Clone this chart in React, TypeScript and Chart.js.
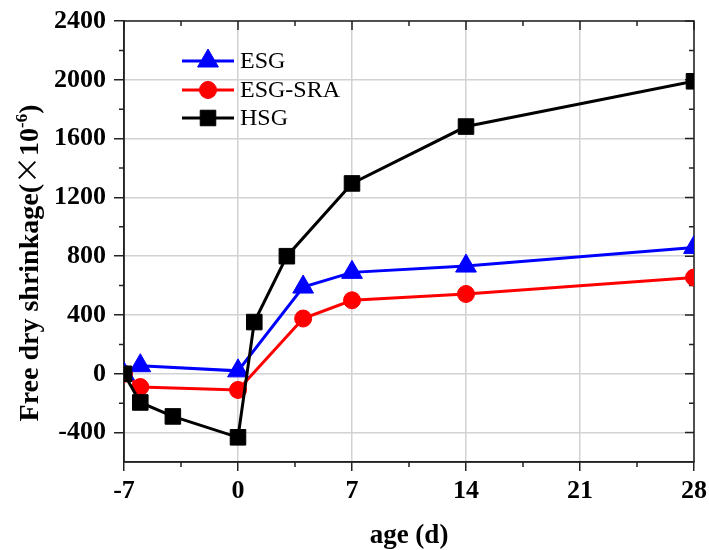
import React, { useEffect, useRef } from "react";
import { Chart, registerables } from "chart.js";
import { drawPoint } from "chart.js/helpers";

Chart.register(...registerables);

// Axis ticks
const xTicks = [-7, 0, 7, 14, 21, 28];
const xMinorTicks = [-3.5, 3.5, 10.5, 17.5, 24.5];
const yTicks = [-400, 0, 400, 800, 1200, 1600, 2000, 2400];
const yMinorTicks = [-200, 200, 600, 1000, 1400, 1800, 2200];

// Free dry shrinkage (×10⁻⁶) against age (d)
const esgAge = [-7, -6, 0, 4, 7, 14, 28];
const esgShrinkage = [0, 55, 20, 590, 690, 733, 860];
const esgSraAge = [-7, -6, 0, 4, 7, 14, 28];
const esgSraShrinkage = [0, -90, -110, 376, 500, 543, 655];
const hsgAge = [-7, -6, -4, 0, 1, 3, 7, 14, 28];
const hsgShrinkage = [0, -195, -290, -432, 352, 800, 1295, 1682, 1990];

const seriesLabels = ["ESG", "ESG-SRA", "HSG"];
const seriesColors = ["#0000ff", "#ff0000", "#000000"];

const SERIF = "'Liberation Serif', 'Times New Roman', serif";
const FRAME = "#222222";

const toPoints = (xs: number[], ys: number[]) => xs.map((x, i) => ({ x, y: ys[i] }));

// Frame, mirrored and minor tick marks, y title and legend
const framePlugin = {
  id: "frameTicks",
  beforeDatasetsDraw(chart: any) {
    const { ctx, chartArea: a, scales } = chart;
    const xs = scales.x;
    const ys = scales.y;
    ctx.save();
    ctx.strokeStyle = FRAME;
    ctx.lineWidth = 1.5;
    ctx.strokeRect(a.left, a.top, a.right - a.left, a.bottom - a.top);
    ctx.beginPath();
    xTicks.forEach((v) => {
      const p = xs.getPixelForValue(v);
      ctx.moveTo(p, a.top);
      ctx.lineTo(p, a.top + 9);
    });
    xMinorTicks.forEach((v) => {
      const p = xs.getPixelForValue(v);
      ctx.moveTo(p, a.top);
      ctx.lineTo(p, a.top + 5);
      ctx.moveTo(p, a.bottom);
      ctx.lineTo(p, a.bottom + 5);
    });
    yTicks.forEach((v) => {
      const p = ys.getPixelForValue(v);
      ctx.moveTo(a.right, p);
      ctx.lineTo(a.right - 9, p);
    });
    yMinorTicks.forEach((v) => {
      const p = ys.getPixelForValue(v);
      ctx.moveTo(a.right, p);
      ctx.lineTo(a.right - 5, p);
      ctx.moveTo(a.left, p);
      ctx.lineTo(a.left - 5, p);
    });
    ctx.stroke();
    ctx.restore();
  },
  afterDraw(chart: any) {
    const { ctx } = chart;
    // y axis title with superscript exponent
    ctx.save();
    ctx.translate(38, 263);
    ctx.rotate(-Math.PI / 2);
    ctx.fillStyle = "#000";
    ctx.textBaseline = "alphabetic";
    const parts = [
      { t: "Free dry shrinkage(", f: `bold 28px ${SERIF}`, dy: 0 },
      { t: "×", f: `28px 'Noto Sans CJK SC', sans-serif`, dy: 0 },
      { t: "10", f: `bold 28px ${SERIF}`, dy: 0 },
      { t: "-6", f: `bold 17px ${SERIF}`, dy: -11 },
      { t: ")", f: `bold 28px ${SERIF}`, dy: 0 },
    ];
    let total = 0;
    const widths = parts.map((p) => {
      ctx.font = p.f;
      const w = ctx.measureText(p.t).width;
      total += w;
      return w;
    });
    let x = -total / 2;
    parts.forEach((p, i) => {
      ctx.font = p.f;
      ctx.fillText(p.t, x, p.dy);
      x += widths[i];
    });
    ctx.restore();

    // legend
    ctx.save();
    const rows = [61, 90, 118];
    chart.data.datasets
      .slice()
      .sort((a: any, b: any) => seriesLabels.indexOf(a.label) - seriesLabels.indexOf(b.label))
      .forEach((ds: any, i: number) => {
        const y = rows[i];
        ctx.strokeStyle = ds.borderColor;
        ctx.lineWidth = 3;
        ctx.beginPath();
        ctx.moveTo(182, y);
        ctx.lineTo(234, y);
        ctx.stroke();
        ctx.fillStyle = ds.borderColor;
        ctx.lineWidth = 1;
        drawPoint(ctx, { pointStyle: ds.pointStyle, radius: ds.pointRadius, borderWidth: 1, rotation: 0 } as any, 208, y);
        ctx.fillStyle = "#000";
        ctx.font = `24px ${SERIF}`;
        ctx.textBaseline = "middle";
        ctx.textAlign = "left";
        ctx.fillText(ds.label, 240, y + 1);
      });
    ctx.restore();
  },
};

export default function App() {
  const canvasRef = useRef<HTMLCanvasElement | null>(null);

  useEffect(() => {
    const canvas = canvasRef.current;
    if (!canvas) return;
    const tickFont = { family: SERIF, size: 26, weight: "bold" as const };
    const grid = {
      color: "#d2d2d2",
      lineWidth: 1.5,
      tickColor: FRAME,
      tickWidth: 1.5,
      tickLength: 10,
    };
    const plainLabel = (v: any) => String(v);
    const chart = new Chart(canvas, {
      type: "line",
      data: {
        datasets: [
          {
            label: seriesLabels[2],
            data: toPoints(hsgAge, hsgShrinkage),
            borderColor: seriesColors[2],
            backgroundColor: seriesColors[2],
            pointStyle: "rect",
            pointRadius: 11,
            pointBorderWidth: 1,
            borderWidth: 3,
            order: 0,
          },
          {
            label: seriesLabels[0],
            data: toPoints(esgAge, esgShrinkage),
            borderColor: seriesColors[0],
            backgroundColor: seriesColors[0],
            pointStyle: "triangle",
            pointRadius: 12,
            pointBorderWidth: 1,
            borderWidth: 3,
            order: 1,
          },
          {
            label: seriesLabels[1],
            data: toPoints(esgSraAge, esgSraShrinkage),
            borderColor: seriesColors[1],
            backgroundColor: seriesColors[1],
            pointStyle: "circle",
            pointRadius: 8.5,
            pointBorderWidth: 1,
            borderWidth: 3,
            order: 2,
          },
        ],
      },
      options: {
        responsive: false,
        animation: false,
        devicePixelRatio: 1,
        layout: { padding: { left: 0, right: 15, top: 21, bottom: 0 } },
        plugins: { legend: { display: false }, tooltip: { enabled: false } },
        elements: { line: { tension: 0 } },
        scales: {
          x: {
            type: "linear",
            min: -7,
            max: 28,
            afterBuildTicks: (s: any) => {
              s.ticks = xTicks.map((value) => ({ value }));
            },
            afterFit: (s: any) => {
              s.height = 88;
              s.paddingLeft = 0;
              s.paddingRight = 0;
            },
            grid: { ...grid, tickLength: 9 },
            border: { color: FRAME, width: 1.5 },
            ticks: { font: tickFont, color: "#000", padding: 5, maxRotation: 0, autoSkip: false, callback: plainLabel },
            title: {
              display: true,
              text: "age (d)",
              color: "#000",
              font: { family: SERIF, size: 27, weight: "bold" },
              padding: { top: 0, bottom: -2 },
            },
          },
          y: {
            type: "linear",
            min: -600,
            max: 2400,
            afterBuildTicks: (s: any) => {
              s.ticks = yTicks.map((value) => ({ value }));
            },
            afterFit: (s: any) => {
              s.width = 124;
              s.paddingTop = 0;
              s.paddingBottom = 0;
            },
            grid,
            border: { color: FRAME, width: 1.5 },
            ticks: { font: tickFont, color: "#000", padding: 8, autoSkip: false, callback: plainLabel },
          },
        },
      },
      plugins: [framePlugin],
    } as any);
    return () => chart.destroy();
  }, []);

  return (
    <div style={{ position: "absolute", left: 0, top: 0, width: 709, height: 550, background: "#fff" }}>
      <canvas ref={canvasRef} width={709} height={550} style={{ display: "block" }} />
    </div>
  );
}
